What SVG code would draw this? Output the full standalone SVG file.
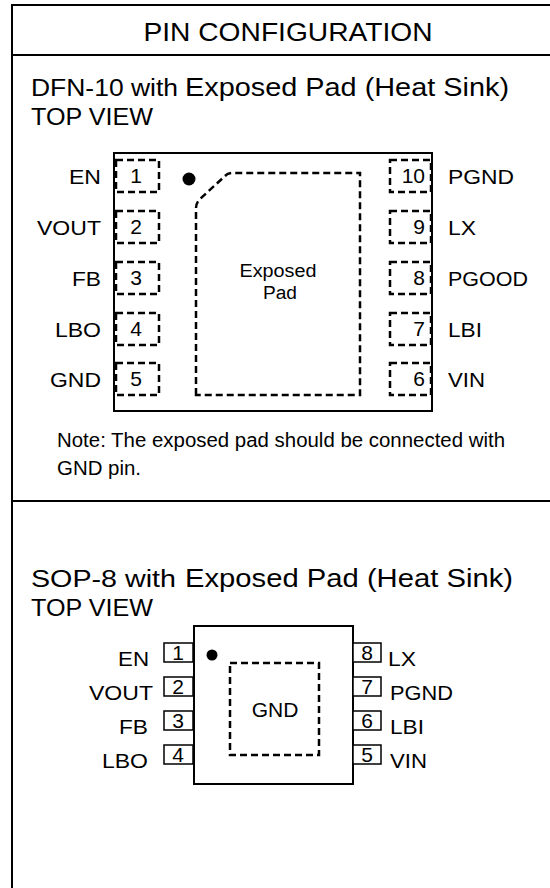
<svg xmlns="http://www.w3.org/2000/svg" width="550" height="888" viewBox="0 0 550 888">
<style>
  text { font-family: "Liberation Sans", Arial, sans-serif; fill: #000; }
  .frame { fill: none; stroke: #000; stroke-width: 2; }
  .body { fill: #fff; stroke: #000; stroke-width: 2; }
  .dash { fill: none; stroke: #000; stroke-width: 2.5; stroke-dasharray: 7 4; }
  .spin { fill: #fff; stroke: #000; stroke-width: 1.5; }
  .lbl { font-size: 21px; }
  .num { font-size: 21px; }
</style>
<rect width="550" height="888" fill="#fff"/>
<g id="frame">
  <rect class="frame" x="12" y="5" width="600" height="1000"/>
  <line class="frame" x1="12" y1="55" x2="560" y2="55"/>
  <line class="frame" x1="12" y1="501" x2="560" y2="501"/>
  <text x="288" y="41" font-size="25.5" text-anchor="middle" textLength="289" lengthAdjust="spacingAndGlyphs">PIN CONFIGURATION</text>
</g>
<g id="dfn-title">
  <text x="31" y="96" font-size="23" textLength="147" lengthAdjust="spacingAndGlyphs">DFN-10 with</text>
  <text x="185" y="96" font-size="26" textLength="324" lengthAdjust="spacingAndGlyphs">Exposed Pad (Heat Sink)</text>
  <text x="31" y="125" font-size="23" textLength="122" lengthAdjust="spacingAndGlyphs">TOP VIEW</text>
</g>
<g id="dfn-body">
  <rect class="body" x="114" y="153" width="318" height="258"/>
  <circle cx="189" cy="179" r="6.5" fill="#000"/>
</g>
<g id="dfn-pad">
  <path class="dash" d="M196,395 L196,208 Q196,203 200,199 L225,176 Q228,173 233,173 L360,173 L360,395 Z"/>
  <text x="278" y="277" font-size="18" text-anchor="middle" textLength="77" lengthAdjust="spacingAndGlyphs">Exposed</text>
  <text x="280" y="299" font-size="18" text-anchor="middle" textLength="34" lengthAdjust="spacingAndGlyphs">Pad</text>
</g>
<g id="dfn-pin1"><rect class="dash" x="116" y="160" width="43" height="32"/><text class="num" x="136" y="183" text-anchor="middle">1</text><text class="lbl" x="101" y="184" text-anchor="end" textLength="32" lengthAdjust="spacingAndGlyphs">EN</text></g>
<g id="dfn-pin2"><rect class="dash" x="116" y="211" width="43" height="32"/><text class="num" x="136" y="234" text-anchor="middle">2</text><text class="lbl" x="101" y="235" text-anchor="end" textLength="64" lengthAdjust="spacingAndGlyphs">VOUT</text></g>
<g id="dfn-pin3"><rect class="dash" x="116" y="262" width="43" height="32"/><text class="num" x="136" y="285" text-anchor="middle">3</text><text class="lbl" x="101" y="286" text-anchor="end" textLength="29" lengthAdjust="spacingAndGlyphs">FB</text></g>
<g id="dfn-pin4"><rect class="dash" x="116" y="313" width="43" height="32"/><text class="num" x="136" y="336" text-anchor="middle">4</text><text class="lbl" x="101" y="337" text-anchor="end" textLength="46" lengthAdjust="spacingAndGlyphs">LBO</text></g>
<g id="dfn-pin5"><rect class="dash" x="116" y="363" width="43" height="32"/><text class="num" x="136" y="386" text-anchor="middle">5</text><text class="lbl" x="101" y="387" text-anchor="end" textLength="51" lengthAdjust="spacingAndGlyphs">GND</text></g>
<g id="dfn-pin10"><rect class="dash" x="390" y="160" width="41" height="32"/><text class="num" x="425" y="183" text-anchor="end">10</text><text class="lbl" x="448" y="184" textLength="66" lengthAdjust="spacingAndGlyphs">PGND</text></g>
<g id="dfn-pin9"><rect class="dash" x="390" y="211" width="41" height="32"/><text class="num" x="425" y="234" text-anchor="end">9</text><text class="lbl" x="448" y="235" textLength="28" lengthAdjust="spacingAndGlyphs">LX</text></g>
<g id="dfn-pin8"><rect class="dash" x="390" y="262" width="41" height="32"/><text class="num" x="425" y="285" text-anchor="end">8</text><text class="lbl" x="448" y="286" textLength="80" lengthAdjust="spacingAndGlyphs">PGOOD</text></g>
<g id="dfn-pin7"><rect class="dash" x="390" y="313" width="41" height="32"/><text class="num" x="425" y="336" text-anchor="end">7</text><text class="lbl" x="448" y="337" textLength="34" lengthAdjust="spacingAndGlyphs">LBI</text></g>
<g id="dfn-pin6"><rect class="dash" x="390" y="363" width="41" height="32"/><text class="num" x="425" y="386" text-anchor="end">6</text><text class="lbl" x="448" y="387" textLength="37" lengthAdjust="spacingAndGlyphs">VIN</text></g>
<g id="dfn-note">
  <text x="57" y="447" font-size="20" textLength="448" lengthAdjust="spacingAndGlyphs">Note: The exposed pad should be connected with</text>
  <text x="57" y="475" font-size="20" textLength="84" lengthAdjust="spacingAndGlyphs">GND pin.</text>
</g>
<g id="sop-title">
  <text x="31" y="587" font-size="23" textLength="145" lengthAdjust="spacingAndGlyphs">SOP-8 with</text>
  <text x="185" y="587" font-size="26" textLength="328" lengthAdjust="spacingAndGlyphs">Exposed Pad (Heat Sink)</text>
  <text x="31" y="616" font-size="23" textLength="122" lengthAdjust="spacingAndGlyphs">TOP VIEW</text>
</g>
<g id="sop-body">
  <rect class="body" x="194" y="626" width="159" height="158"/>
  <circle cx="212" cy="655" r="5.5" fill="#000"/>
</g>
<g id="sop-pad">
  <rect class="dash" x="230" y="663" width="89" height="92"/>
  <text x="275" y="717" font-size="21" text-anchor="middle">GND</text>
</g>
<g id="sop-pin1"><rect class="spin" x="164" y="643" width="29" height="19"/><text class="num" x="178" y="660" text-anchor="middle">1</text><text class="lbl" x="149" y="666" text-anchor="end" textLength="31" lengthAdjust="spacingAndGlyphs">EN</text></g>
<g id="sop-pin2"><rect class="spin" x="164" y="677" width="29" height="19"/><text class="num" x="178" y="694" text-anchor="middle">2</text><text class="lbl" x="153" y="700" text-anchor="end" textLength="64" lengthAdjust="spacingAndGlyphs">VOUT</text></g>
<g id="sop-pin3"><rect class="spin" x="164" y="711" width="29" height="19"/><text class="num" x="178" y="728" text-anchor="middle">3</text><text class="lbl" x="148" y="734" text-anchor="end" textLength="29" lengthAdjust="spacingAndGlyphs">FB</text></g>
<g id="sop-pin4"><rect class="spin" x="164" y="745" width="29" height="19"/><text class="num" x="178" y="762" text-anchor="middle">4</text><text class="lbl" x="148" y="768" text-anchor="end" textLength="46" lengthAdjust="spacingAndGlyphs">LBO</text></g>
<g id="sop-pin8"><rect class="spin" x="353" y="643" width="28" height="19"/><text class="num" x="367" y="660" text-anchor="middle">8</text><text class="lbl" x="388" y="666" textLength="28" lengthAdjust="spacingAndGlyphs">LX</text></g>
<g id="sop-pin7"><rect class="spin" x="353" y="677" width="28" height="19"/><text class="num" x="367" y="694" text-anchor="middle">7</text><text class="lbl" x="390" y="700" textLength="63" lengthAdjust="spacingAndGlyphs">PGND</text></g>
<g id="sop-pin6"><rect class="spin" x="353" y="711" width="28" height="19"/><text class="num" x="367" y="728" text-anchor="middle">6</text><text class="lbl" x="390" y="734" textLength="34" lengthAdjust="spacingAndGlyphs">LBI</text></g>
<g id="sop-pin5"><rect class="spin" x="353" y="745" width="28" height="19"/><text class="num" x="367" y="762" text-anchor="middle">5</text><text class="lbl" x="390" y="768" textLength="37" lengthAdjust="spacingAndGlyphs">VIN</text></g>
<g id="connectors"></g>
</svg>
